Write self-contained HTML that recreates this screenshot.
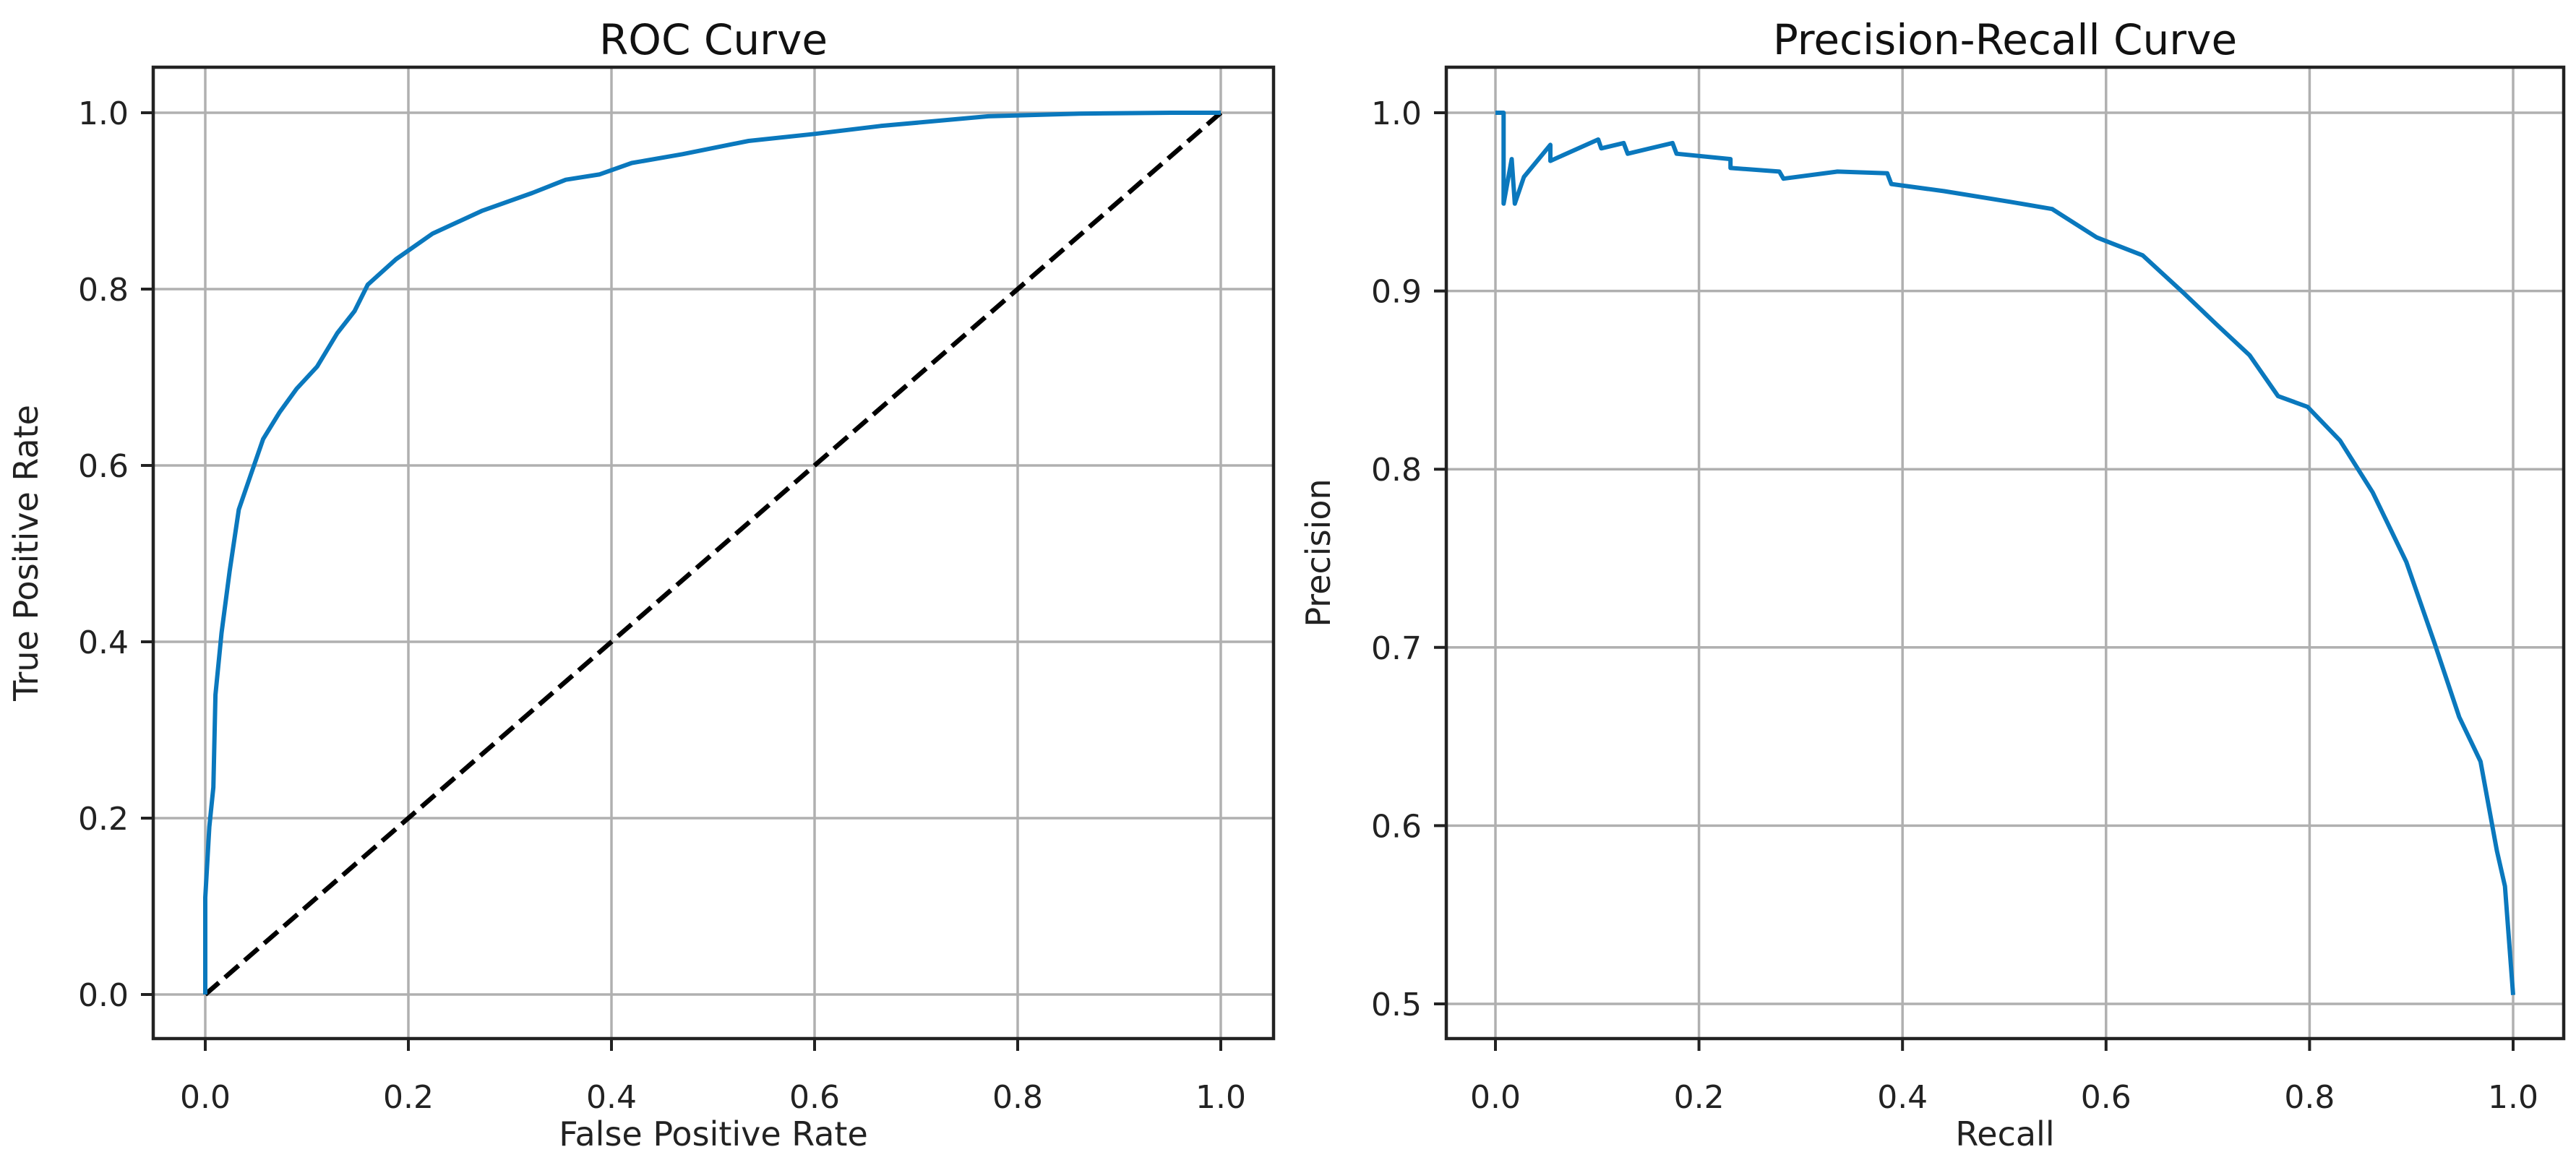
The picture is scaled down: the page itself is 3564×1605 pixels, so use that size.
<!DOCTYPE html>
<html><head><meta charset="utf-8"><style>
html,body{margin:0;padding:0;background:#fff;}
svg{display:block;font-family:"DejaVu Sans","Liberation Sans",sans-serif;}
</style></head><body>
<svg id="fig" width="3564" height="1605" viewBox="0 0 3564 1605" xmlns="http://www.w3.org/2000/svg">
<rect width="3564" height="1605" fill="#fff"/>
<g id="roc"></g>
<g id="pr"></g>
</svg>
<script>
const rocTicksX = [0, 0.2, 0.4, 0.6, 0.8, 1.0];
const rocTicksY = [0, 0.2, 0.4, 0.6, 0.8, 1.0];
const rocFpr = [0,0,0.004,0.008,0.01,0.016,0.024,0.033,0.045,0.057,0.073,0.09,0.11,0.13,0.147,0.16,0.188,0.224,0.273,0.322,0.355,0.388,0.42,0.47,0.535,0.6,0.665,0.771,0.861,0.951,1];
const rocTpr = [0,0.11,0.19,0.235,0.34,0.41,0.48,0.55,0.59,0.63,0.66,0.687,0.712,0.75,0.775,0.805,0.834,0.863,0.889,0.909,0.924,0.93,0.943,0.953,0.968,0.976,0.985,0.996,0.999,1.0,1.0];
const chanceX = [0, 1];
const chanceY = [0, 1];
const prTicksX = [0, 0.2, 0.4, 0.6, 0.8, 1.0];
const prTicksY = [0.5, 0.6, 0.7, 0.8, 0.9, 1.0];
const prRecall = [0,0.008,0.008,0.016,0.019,0.028,0.054,0.054,0.101,0.104,0.126,0.13,0.174,0.178,0.231,0.231,0.279,0.283,0.336,0.385,0.389,0.441,0.506,0.547,0.591,0.636,0.676,0.709,0.741,0.769,0.798,0.83,0.862,0.895,0.923,0.947,0.968,0.984,0.992,1.0];
const prPrecision = [1.0,1.0,0.949,0.974,0.949,0.964,0.982,0.973,0.985,0.98,0.983,0.977,0.983,0.977,0.974,0.969,0.967,0.963,0.967,0.966,0.96,0.956,0.95,0.946,0.93,0.92,0.899,0.881,0.864,0.841,0.835,0.816,0.787,0.748,0.702,0.661,0.636,0.586,0.566,0.505];

const NS = "http://www.w3.org/2000/svg";
function mk(parent, tag, attrs, text){
  const e = document.createElementNS(NS, tag);
  for (const k in attrs) e.setAttribute(k, attrs[k]);
  if (text !== undefined) e.textContent = text;
  parent.appendChild(e);
  return e;
}
function drawAxes(g, box, sx, sy, ticksX, ticksY, title, xlabel, ylabel, ylabelX, pfx){
  for (const t of ticksX){
    const l = mk(g,'line',{x1:sx(t),x2:sx(t),y1:box.t,y2:box.b,stroke:'#b0b0b0','stroke-width':3.5});
    
    
  }
  for (const t of ticksY){
    const l = mk(g,'line',{x1:box.l,x2:box.r,y1:sy(t),y2:sy(t),stroke:'#b0b0b0','stroke-width':3.5});
    
    
  }
  for (const t of ticksX){
    mk(g,'line',{x1:sx(t),x2:sx(t),y1:box.b,y2:box.b+17,stroke:'#222','stroke-width':4});
    const tx = mk(g,'text',{x:sx(t),y:box.b+96,'font-size':44,'text-anchor':'middle',fill:'#222'}, t.toFixed(1));
    
    
  }
  for (const t of ticksY){
    mk(g,'line',{x1:box.l-17,x2:box.l,y1:sy(t),y2:sy(t),stroke:'#222','stroke-width':4});
    const tx = mk(g,'text',{x:box.l-34,y:sy(t)+16,'font-size':44,'text-anchor':'end',fill:'#222'}, t.toFixed(1));
    
    
  }
  const tt = mk(g,'text',{x:(box.l+box.r)/2,y:75,'font-size':58,'text-anchor':'middle',fill:'#111'}, title);
  
  
  const xl = mk(g,'text',{x:(box.l+box.r)/2,y:1585,'font-size':46,'text-anchor':'middle',fill:'#222'}, xlabel);
  
  
  const cy = (box.t+box.b)/2;
  const yl = mk(g,'text',{x:ylabelX,y:cy,'font-size':46,'text-anchor':'middle',fill:'#222',transform:`rotate(-90 ${ylabelX} ${cy})`}, ylabel);
  
  
}
function frame(g, box, pfx){
  const r = mk(g,'rect',{x:box.l,y:box.t,width:box.r-box.l,height:box.b-box.t,fill:'none',stroke:'#222','stroke-width':4.5});
  
  
}
function pts(xs, ys, sx, sy){ return xs.map((x,i)=>sx(x).toFixed(1)+','+sy(ys[i]).toFixed(1)).join(' '); }

// ROC
(function(){
  const g = document.getElementById('roc');
  const box = {l:212, r:1762, t:93, b:1437};
  const sx = v => 284 + v*(1689-284);
  const sy = v => 1376 - v*(1376-156);
  drawAxes(g, box, sx, sy, rocTicksX, rocTicksY, 'ROC Curve', 'False Positive Rate', 'True Positive Rate', 52, 'roc');
  const d = mk(g,'polyline',{points:pts(chanceX,chanceY,sx,sy),fill:'none',stroke:'#000','stroke-width':6.5,'stroke-dasharray':'25 11'});
  
  
  const c = mk(g,'polyline',{points:pts(rocFpr,rocTpr,sx,sy),fill:'none',stroke:'#0a78bd','stroke-width':6,'stroke-linejoin':'round'});
  
  
  frame(g, box, 'roc');
})();
// PR
(function(){
  const g = document.getElementById('pr');
  const box = {l:2001, r:3547, t:93, b:1437};
  const sx = v => 2069 + v*(3477-2069);
  const sy = v => 1389 - (v-0.5)/0.5*(1389-156);
  drawAxes(g, box, sx, sy, prTicksX, prTicksY, 'Precision-Recall Curve', 'Recall', 'Precision', 1840, 'pr');
  const c = mk(g,'polyline',{points:pts(prRecall,prPrecision,sx,sy),fill:'none',stroke:'#0a78bd','stroke-width':6,'stroke-linejoin':'round'});
  
  
  frame(g, box, 'pr');
})();
</script>
</body></html>
